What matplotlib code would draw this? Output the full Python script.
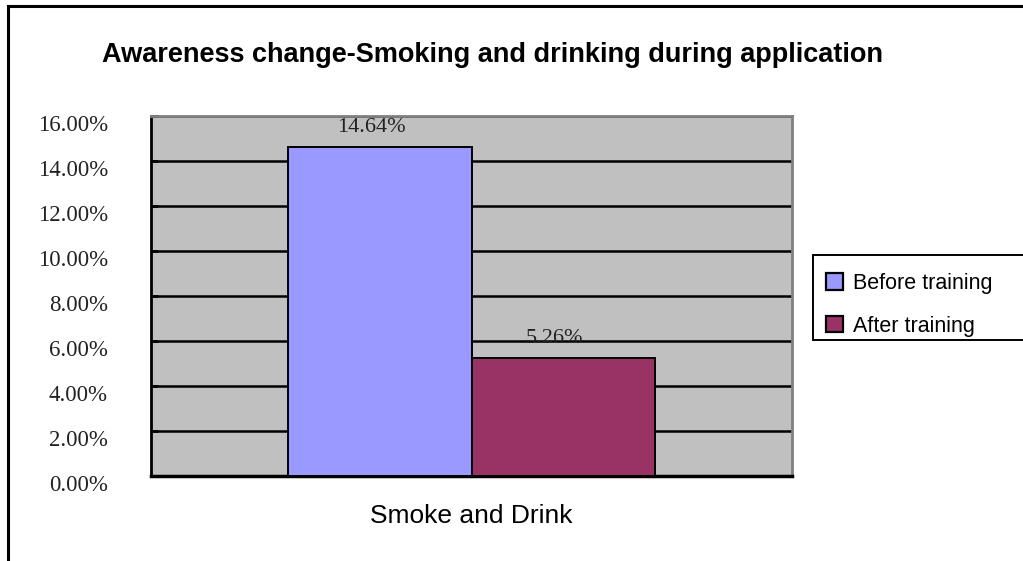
import matplotlib.pyplot as plt
from matplotlib.patches import Rectangle, Patch
from matplotlib.ticker import FuncFormatter
from matplotlib.transforms import ScaledTranslation

title = "Awareness change-Smoking and drinking during application"
category = "Smoke and Drink"
series = ["Before training", "After training"]
values = [14.64, 5.26]
colors = ["#9999FF", "#993366"]
y_ticks = [0, 2, 4, 6, 8, 10, 12, 14, 16]

W, H = 1023, 561
fig = plt.figure(figsize=(W / 100, H / 100), dpi=100)

# outer chart border (only the left and top edges are inside the image)
fig.patches.append(Rectangle((8 / W, -0.1), 1.2, 1 - 6 / H + 0.1, transform=fig.transFigure,
                             fill=False, edgecolor="black", linewidth=2.2))

ax = fig.add_axes([151 / W, 85 / H, 641 / W, 360 / H])
ax.set_facecolor("#C0C0C0")
ax.set_xlim(-0.5, 0.5)
ax.set_ylim(0, 16)
ax.set_yticks(y_ticks)
ax.yaxis.set_major_formatter(FuncFormatter(lambda v, p: f"{v:.2f}%"))
ax.grid(axis="y", color="black", linewidth=1.8)
ax.set_axisbelow(True)

bw = 0.2855
for i, (name, v, c) in enumerate(zip(series, values, colors)):
    x = (i - 0.5) * bw
    ax.bar(x, v, width=bw, color=c, edgecolor="black", linewidth=1.4, label=name, zorder=3)
    ax.annotate(f"{v:.2f}%", (x, v), xytext=(-6, 7), textcoords="offset points",
                ha="center", va="bottom", fontsize=16, family="Liberation Serif",
                color="#222222", zorder=4)

for side in ["top", "right"]:
    ax.spines[side].set_color("#808080")
    ax.spines[side].set_linewidth(2)
ax.spines["left"].set_linewidth(2)
ax.spines["bottom"].set_linewidth(2.5)

ax.set_xticks([])
ax.tick_params(axis="y", direction="in", length=5, width=2, pad=31, labelsize=16.5)
shift = ScaledTranslation(0, -7 / 100, fig.dpi_scale_trans)
for lab in ax.get_yticklabels():
    lab.set_family("Liberation Serif")
    lab.set_color("#222222")
    lab.set_transform(lab.get_transform() + shift)

ax.set_xlabel(category, fontsize=19, family="Liberation Sans", labelpad=20)

fig.text(492 / W, 1 - 55 / H, title, ha="center", va="center", fontsize=19.5,
         fontweight="bold", family="Liberation Sans")

# legend box runs off the right edge
fig.patches.append(Rectangle((813 / W, 1 - 340 / H), 0.3, 85 / H, transform=fig.transFigure,
                             facecolor="white", edgecolor="black", linewidth=1.4))
handles = [Patch(facecolor=c, edgecolor="black", linewidth=1.6) for c in colors]
fig.legend(handles, series, loc="upper left", bbox_to_anchor=(826 / W, 1 - 273 / H),
           frameon=False, prop={"family": "Liberation Sans", "size": 15.5},
           handlelength=0.8, handleheight=0.8, handletextpad=0.45, labelspacing=1.0,
           borderaxespad=0, borderpad=0)

fig.savefig("out.png", dpi=100)
